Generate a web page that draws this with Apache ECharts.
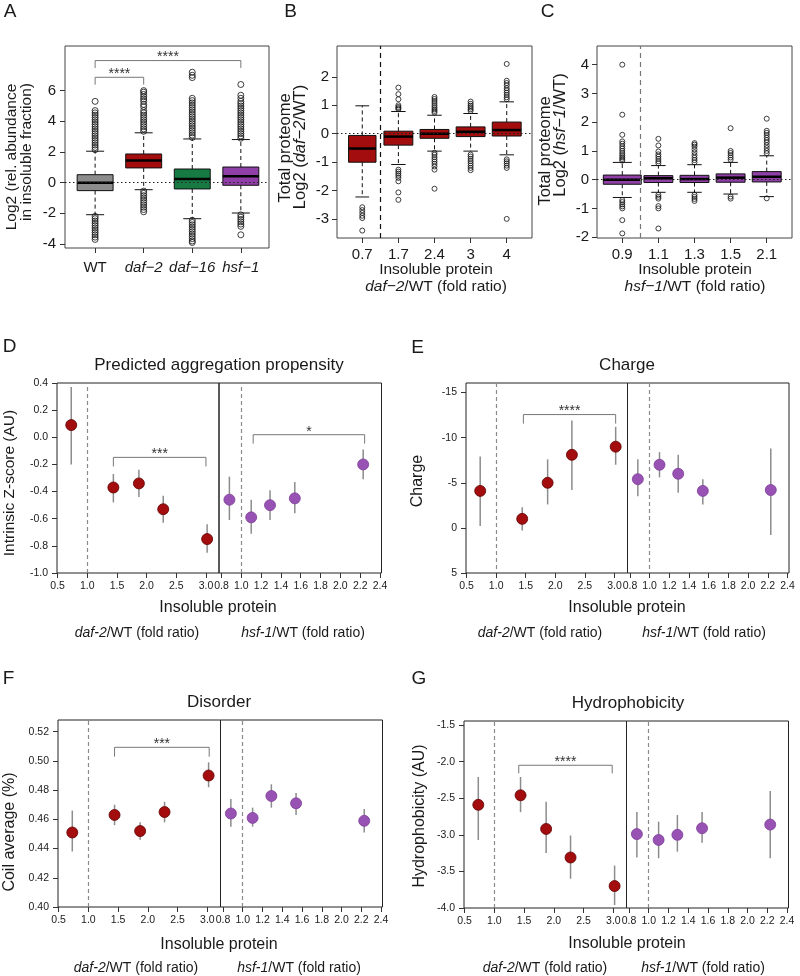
<!DOCTYPE html>
<html>
<head>
<meta charset="utf-8">
<title>Insoluble proteome</title>
<script src="https://cdn.jsdelivr.net/npm/echarts@6/dist/echarts.min.js"></script>
<style>
  html, body { margin: 0; padding: 0; background: #fff; }
  #chart { width: 800px; height: 976px; }
</style>
</head>
<body>
<div id="chart"></div>
<script>
const FONT = 'Liberation Sans';

// ---------- A: log2 abundance in insoluble fraction ----------
const aStrains = ['WT', 'daf−2', 'daf−16', 'hsf−1'];
// [lower whisker, Q1, median, Q3, upper whisker]
const aBoxes = [
  [-2.09, -0.52, 0.0, 0.52, 2.05],
  [-0.46, 0.96, 1.44, 1.87, 3.25],
  [-2.35, -0.41, 0.24, 0.89, 2.85],
  [-1.98, -0.17, 0.41, 1.02, 2.81]
];
const aOutliers = [
  [2.15, 2.3, 2.45, 2.6, 2.75, 2.9, 3.05, 3.2, 3.35, 3.5, 3.65, 3.8, 3.95, 4.1, 4.25, 4.4, 4.55, 4.7, 5.3,
   -2.2, -2.35, -2.5, -2.65, -2.8, -2.95, -3.1, -3.25, -3.4, -3.55, -3.7],
  [3.35, 3.5, 3.65, 3.8, 3.95, 4.1, 4.25, 4.4, 4.55, 4.7, 4.95, 5.1, 5.3, 5.45, 5.6, 5.75, 5.9, 6.0,
   -0.55, -0.7, -0.85, -1.0, -1.15, -1.3, -1.45, -1.6, -1.75, -1.9],
  [2.95, 3.1, 3.25, 3.4, 3.55, 3.7, 3.85, 4.0, 4.15, 4.3, 4.45, 4.6, 4.75, 4.9, 5.05, 5.2, 5.35, 5.5, 6.85, 7.0, 7.2,
   -2.45, -2.6, -2.75, -2.9, -3.05, -3.2, -3.35, -3.5, -3.65, -3.8, -3.9],
  [2.9, 3.05, 3.2, 3.35, 3.5, 3.65, 3.8, 3.95, 4.1, 4.25, 4.4, 4.55, 4.7, 4.85, 5.0, 5.15, 5.3, 5.5, 5.7, 6.4,
   -2.1, -2.25, -2.4, -2.55, -2.7, -2.85, -3.4]
];
const aSig = [[1, 2, 6.87, 6.39, '****'], [1, 4, 7.96, 7.48, '****']];

// ---------- B: total proteome daf-2/WT by insoluble bin ----------
const bTicks = ['0.7', '1.7', '2.4', '3', '4'];
const bBoxes = [
  [-2.22, -1.0, -0.52, -0.06, 0.98],
  [-1.08, -0.4, -0.1, 0.09, 0.78],
  [-0.61, -0.16, 0.0, 0.15, 0.65],
  [-0.61, -0.1, 0.07, 0.24, 0.71],
  [-0.74, -0.08, 0.13, 0.41, 1.12]
];
const bOutliers = [
  [-2.58, -2.68, -2.78, -2.88, -2.96, -3.4],
  [0.86, 0.9, 0.94, 1.0, 1.21, 1.39, 1.62, -1.26, -1.33, -1.4, -1.47, -1.55, -1.67, -2.06, -2.32],
  [0.74, 0.8, 0.86, 0.93, 1.0, 1.08, 1.15, 1.22, 1.29, -0.67, -0.74, -0.82, -0.9, -0.98, -1.06, -1.15, -1.26, -1.93],
  [0.8, 0.86, 0.92, 0.98, 1.05, 1.13, -0.73, -0.8, -0.88, -0.96, -1.04, -1.12, -1.2, -1.28],
  [1.21, 1.28, 1.36, 1.44, 1.52, 1.6, 1.7, 1.78, 1.86, 2.45, -0.9, -0.97, -1.04, -1.12, -1.2, -2.99]
];

// ---------- C: total proteome hsf-1/WT by insoluble bin ----------
const cTicks = ['0.9', '1.1', '1.3', '1.5', '2.1'];
const cBoxes = [
  [-0.62, -0.16, 0.0, 0.16, 0.6],
  [-0.44, -0.1, 0.05, 0.14, 0.49],
  [-0.44, -0.1, 0.02, 0.15, 0.52],
  [-0.5, -0.09, 0.07, 0.2, 0.6],
  [-0.59, -0.08, 0.1, 0.28, 0.83]
];
const cOutliers = [
  [0.66, 0.72, 0.78, 0.85, 0.92, 1.0, 1.08, 1.16, 1.25, 1.33, 1.56, 2.26, 4.0, -0.71, -0.78, -0.86, -0.93, -1.0, -1.41, -1.87],
  [0.57, 0.64, 0.72, 0.8, 0.88, 0.98, 1.19, 1.42, -0.53, -0.6, -0.66, -0.92, -1.0, -1.7],
  [0.6, 0.68, 0.76, 0.85, 0.95, 1.05, 1.15, 1.22, 1.27, -0.53, -0.6, -0.67, -0.74],
  [0.69, 0.77, 0.85, 0.93, 1.0, 1.79, -0.59, -0.66],
  [0.92, 1.0, 1.1, 1.2, 1.3, 1.38, 1.46, 1.55, 1.63, 1.7, 2.12, -0.65]
];

// ---------- D-G: protein properties by insoluble bin ----------
const daf2X = [0.73, 1.44, 1.87, 2.28, 3.02];
const hsf1X = [0.88, 1.10, 1.29, 1.54, 2.23];
// [mean, lower, upper]
const aggDaf2 = [[0.09, -0.20, 0.37], [-0.37, -0.48, -0.27], [-0.34, -0.44, -0.24], [-0.53, -0.63, -0.43], [-0.75, -0.85, -0.64]];
const aggHsf1 = [[-0.46, -0.61, -0.29], [-0.59, -0.71, -0.46], [-0.50, -0.61, -0.39], [-0.45, -0.56, -0.33], [-0.20, -0.31, -0.09]];
const chgDaf2 = [[-4.1, -7.9, -0.2], [-1.0, -2.3, 0.3], [-5.0, -7.6, -2.6], [-8.1, -11.9, -4.2], [-9.0, -11.2, -7.0]];
const chgHsf1 = [[-5.4, -7.6, -3.5], [-7.0, -8.4, -5.6], [-6.0, -8.1, -3.9], [-4.1, -5.4, -2.6], [-4.2, -8.8, 0.8]];
const disDaf2 = [[0.451, 0.438, 0.466], [0.463, 0.456, 0.470], [0.452, 0.446, 0.458], [0.465, 0.458, 0.472], [0.490, 0.482, 0.499]];
const disHsf1 = [[0.464, 0.455, 0.474], [0.461, 0.455, 0.468], [0.476, 0.468, 0.484], [0.471, 0.463, 0.478], [0.459, 0.451, 0.467]];
const hydDaf2 = [[-2.59, -3.07, -2.21], [-2.46, -2.69, -2.21], [-2.92, -3.25, -2.55], [-3.31, -3.60, -3.01], [-3.70, -3.96, -3.42]];
const hydHsf1 = [[-2.99, -3.31, -2.69], [-3.07, -3.32, -2.82], [-3.00, -3.23, -2.73], [-2.91, -3.11, -2.69], [-2.86, -3.32, -2.40]];
// [x from, x to, bracket level, tick end, label]
const aggSigDaf2 = [[1.44, 3.0, -0.148, -0.215, '***']];
const aggSigHsf1 = [[1.12, 2.245, 0.019, -0.047, '*']];
const chgSig = [[1.46, 3.02, -12.56, -11.56, '****']];
const disSig = [[1.44, 3.03, 0.5093, 0.5029, '***']];
const hydSig = [[1.41, 2.98, -2.05, -2.16, '****']];

const leftTicks = [0.5, 1.0, 1.5, 2.0, 2.5, 3.0];
const rightTicks = [0.8, 1.0, 1.2, 1.4, 1.6, 1.8, 2.0, 2.2, 2.4];

const RED = '#a30d0d', PURPLE = '#9752b3';
const aColors = ['#8c8c8c', RED, '#177a43', '#8f3fa6'];

const chart = echarts.init(document.getElementById('chart'));

const grids = [
  { left: 65, top: 46, width: 204, height: 202 },
  { left: 337, top: 46, width: 195, height: 192 },
  { left: 597, top: 46, width: 195, height: 192 },
  { left: 57, top: 383, width: 162, height: 190 },
  { left: 219, top: 383, width: 162.5, height: 190 },
  { left: 466, top: 383, width: 161.5, height: 190 },
  { left: 627.5, top: 383, width: 161.5, height: 190 },
  { left: 58, top: 720, width: 162.5, height: 187 },
  { left: 220.5, top: 720, width: 162, height: 187 },
  { left: 464, top: 721, width: 162.5, height: 187 },
  { left: 626.5, top: 721, width: 162, height: 187 }
].map((g, i) => Object.assign(g, {
  show: true, borderColor: i < 3 ? '#444' : '#222', borderWidth: 1, backgroundColor: 'transparent'
}));

function rich(size) {
  return { i: { fontStyle: 'italic', fontSize: size, fontFamily: FONT, color: '#1a1a1a', fill: '#1a1a1a' } };
}

function axis(gi, min, max, ticks, fmt, size, margin, extra) {
  return Object.assign({
    type: 'value', gridIndex: gi, min, max,
    axisLine: { show: false, onZero: false },
    axisTick: { show: true, length: 5, customValues: ticks, lineStyle: { color: '#333', width: 1 } },
    axisLabel: { customValues: ticks, formatter: fmt, color: '#1a1a1a', fontSize: size, fontFamily: FONT, margin, rich: rich(size) },
    splitLine: { show: false }
  }, extra || {});
}

function boxSeries(ai, boxes, colors, widths) {
  return {
    type: 'custom', xAxisIndex: ai, yAxisIndex: ai, z: 2, silent: true,
    data: boxes.map((b, i) => [i + 1].concat(b)),
    renderItem(params, api) {
      const i = params.dataIndex, x = api.value(0), w = widths[i];
      const v = k => api.value(k);
      const seg = (x1, y1, x2, y2, style) => {
        const a = api.coord([x1, y1]), b = api.coord([x2, y2]);
        return { type: 'line', shape: { x1: a[0], y1: a[1], x2: b[0], y2: b[1] }, style };
      };
      const thin = { stroke: '#111', lineWidth: 1 };
      const dash = { stroke: '#111', lineWidth: 1, lineDash: [4, 3] };
      const tl = api.coord([x - w / 2, v(4)]), br = api.coord([x + w / 2, v(2)]);
      return { type: 'group', children: [
        seg(x, v(4), x, v(5), dash),
        seg(x, v(2), x, v(1), dash),
        seg(x - w / 4, v(5), x + w / 4, v(5), thin),
        seg(x - w / 4, v(1), x + w / 4, v(1), thin),
        { type: 'rect', shape: { x: tl[0], y: tl[1], width: br[0] - tl[0], height: br[1] - tl[1] },
          style: { fill: colors[i], stroke: '#111', lineWidth: 1 } },
        seg(x - w / 2, v(3), x + w / 2, v(3), { stroke: '#000', lineWidth: 2.5 })
      ] };
    }
  };
}

function outlierSeries(ai, outs, size, marks) {
  const data = [];
  outs.forEach((list, i) => list.forEach(v => data.push([i + 1, v])));
  return {
    type: 'scatter', xAxisIndex: ai, yAxisIndex: ai, z: 3, silent: true, symbolSize: size, data,
    itemStyle: { color: 'transparent', borderColor: '#111', borderWidth: 1 },
    markLine: { silent: true, symbol: 'none', label: { show: false }, animation: false, data: marks }
  };
}

function sigSeries(ai, list) {
  return {
    type: 'custom', xAxisIndex: ai, yAxisIndex: ai, z: 5, silent: true,
    data: list.map(b => b.slice(0, 4)),
    renderItem(params, api) {
      const b = list[params.dataIndex];
      const p1 = api.coord([b[0], b[3]]), p2 = api.coord([b[0], b[2]]);
      const p3 = api.coord([b[1], b[2]]), p4 = api.coord([b[1], b[3]]);
      return { type: 'group', children: [
        { type: 'polyline', shape: { points: [p1, p2, p3, p4] }, style: { stroke: '#777', lineWidth: 1, fill: 'none' } },
        { type: 'text', style: { text: b[4], x: (p2[0] + p3[0]) / 2, y: p2[1] - 3, fill: '#333', fontSize: 14,
          fontFamily: FONT, align: 'center', verticalAlign: 'middle' } }
      ] };
    }
  };
}

function errSeries(ai, xs, vals) {
  return {
    type: 'custom', xAxisIndex: ai, yAxisIndex: ai, z: 2, silent: true,
    data: xs.map((x, i) => [x, vals[i][1], vals[i][2]]),
    renderItem(params, api) {
      const a = api.coord([api.value(0), api.value(1)]), b = api.coord([api.value(0), api.value(2)]);
      return { type: 'line', shape: { x1: a[0], y1: a[1], x2: b[0], y2: b[1] }, style: { stroke: '#8c8c8c', lineWidth: 1.5 } };
    }
  };
}

function pointSeries(ai, xs, vals, color, border) {
  return {
    type: 'scatter', xAxisIndex: ai, yAxisIndex: ai, z: 3, silent: true, symbolSize: 11,
    data: xs.map((x, i) => [x, vals[i][0]]),
    itemStyle: { color, borderColor: border, borderWidth: 0.8, opacity: 1 },
    markLine: { silent: true, symbol: 'none', label: { show: false }, animation: false,
      lineStyle: { type: [4, 3], color: '#8a8a8a', width: 1.2 }, data: [{ xAxis: 1.0 }] }
  };
}

const xAxes = [], yAxes = [], series = [];

// A
xAxes.push(axis(0, 0.38, 4.58, [1, 2, 3, 4],
  v => { const i = Math.round(v) - 1; return i === 0 ? aStrains[0] : '{i|' + aStrains[i] + '}'; }, 15, 12));
yAxes.push(axis(0, -4.26, 8.91, [-4, -2, 0, 2, 4, 6], v => String(v), 15, 9));
series.push(boxSeries(0, aBoxes, aColors, [0.74, 0.74, 0.74, 0.74]));
series.push(outlierSeries(0, aOutliers, 6, [{ yAxis: 0, lineStyle: { type: [1.5, 2.5], color: '#222', width: 1 } }]));
series.push(sigSeries(0, aSig));

// B
xAxes.push(axis(1, 0.3, 5.7, [1, 2, 3, 4, 5], v => bTicks[Math.round(v) - 1], 15, 9));
yAxes.push(axis(1, -3.66, 3.08, [-3, -2, -1, 0, 1, 2], v => String(v), 15, 8));
series.push(boxSeries(1, bBoxes, bBoxes.map(() => RED), [0.76, 0.8, 0.8, 0.8, 0.8]));
series.push(outlierSeries(1, bOutliers, 5, [
  { yAxis: 0, lineStyle: { type: [1.5, 2.5], color: '#222', width: 1 } },
  { xAxis: 1.5, lineStyle: { type: [5, 4], color: '#111', width: 1.2 } }
]));

// C
xAxes.push(axis(2, 0.3, 5.7, [1, 2, 3, 4, 5], v => cTicks[Math.round(v) - 1], 15, 9));
yAxes.push(axis(2, -2.03, 4.65, [-2, -1, 0, 1, 2, 3, 4], v => String(v), 15, 8));
series.push(boxSeries(2, cBoxes, cBoxes.map(() => '#8f3fa6'), [1.05, 0.8, 0.8, 0.8, 0.8]));
series.push(outlierSeries(2, cOutliers, 5, [
  { yAxis: 0, lineStyle: { type: [1.5, 2.5], color: '#222', width: 1 } },
  { xAxis: 1.5, lineStyle: { type: [5, 4], color: '#777', width: 1.2 } }
]));

// D-G, each a left (daf-2) and right (hsf-1) half
function pairPanel(li, yMin, yMax, yTicks, yFmt, inverse, daf, hsf, sigL, sigR) {
  const ri = li + 1;
  xAxes.push(axis(li, 0.49, 3.22, leftTicks, v => v.toFixed(1), 10.5, 8));
  xAxes.push(axis(ri, 0.775, 2.415, rightTicks, v => v.toFixed(1), 10.5, 8));
  yAxes.push(axis(li, yMin, yMax, yTicks, yFmt, 10.5, 9, { inverse }));
  yAxes.push({ type: 'value', gridIndex: ri, min: yMin, max: yMax, inverse, show: false, splitLine: { show: false } });
  series.push(errSeries(li, daf2X, daf), pointSeries(li, daf2X, daf, RED, '#5e0000'));
  series.push(errSeries(ri, hsf1X, hsf), pointSeries(ri, hsf1X, hsf, PURPLE, '#7d3d99'));
  if (sigL) series.push(sigSeries(li, sigL));
  if (sigR) series.push(sigSeries(ri, sigR));
}
pairPanel(3, -1.0, 0.4, [-1.0, -0.8, -0.6, -0.4, -0.2, 0.0, 0.2, 0.4], v => v.toFixed(1), false,
  aggDaf2, aggHsf1, aggSigDaf2, aggSigHsf1);
pairPanel(5, -16.06, 5, [-15, -10, -5, 0, 5], v => String(v), true, chgDaf2, chgHsf1, chgSig, null);
pairPanel(7, 0.40, 0.528, [0.40, 0.42, 0.44, 0.46, 0.48, 0.50, 0.52], v => v.toFixed(2), false,
  disDaf2, disHsf1, disSig, null);
pairPanel(9, -4.0, -1.445, [-4.0, -3.5, -3.0, -2.5, -2.0, -1.5], v => v.toFixed(1), false,
  hydDaf2, hydHsf1, hydSig, null);

function txt(x, y, text, size, rot) {
  return {
    type: 'text', x, y, rotation: rot ? Math.PI / 2 : 0, silent: true,
    style: { text, fontSize: size, fontFamily: FONT, fill: '#1a1a1a', align: 'center', verticalAlign: 'middle',
      textAlign: 'center', textVerticalAlign: 'middle', rich: rich(size) }
  };
}

const texts = [
  txt(10, 11.5, 'A', 19), txt(290.5, 11.5, 'B', 19), txt(547.5, 11.5, 'C', 19),
  txt(9.5, 346.5, 'D', 19), txt(417.5, 347.5, 'E', 19), txt(8.5, 678.5, 'F', 19), txt(419, 678.5, 'G', 19),
  // A
  txt(12, 157, 'Log2 (rel. abundance', 15.5, true),
  txt(27, 152, 'in insoluble fraction)', 15.5, true),
  // B
  txt(285, 148, 'Total proteome', 16.5, true),
  txt(300, 147, 'Log2 ({i|daf−2}/WT)', 16.5, true),
  txt(436, 270, 'Insoluble protein', 15.5),
  txt(436, 287, '{i|daf−2}/WT (fold ratio)', 15.5),
  // C
  txt(545, 151, 'Total proteome', 16.5, true),
  txt(560, 135, 'Log2 ({i|hsf−1}/WT)', 16.5, true),
  txt(695, 270, 'Insoluble protein', 15.5),
  txt(695, 287, '{i|hsf−1}/WT (fold ratio)', 15.5),
  // D
  txt(219, 365, 'Predicted aggregation propensity', 17),
  txt(10, 483, 'Intrinsic Z-score (AU)', 15.5, true),
  txt(218, 608, 'Insoluble protein', 16),
  txt(137, 633, '{i|daf-2}/WT (fold ratio)', 14),
  txt(303, 633, '{i|hsf-1}/WT (fold ratio)', 14),
  // E
  txt(627, 365, 'Charge', 17),
  txt(418, 481, 'Charge', 16, true),
  txt(627, 608, 'Insoluble protein', 16),
  txt(540, 633, '{i|daf-2}/WT (fold ratio)', 14),
  txt(704, 633, '{i|hsf-1}/WT (fold ratio)', 14),
  // F
  txt(219, 702, 'Disorder', 17),
  txt(10, 832, 'Coil average (%)', 16, true),
  txt(219, 945, 'Insoluble protein', 16),
  txt(136, 968, '{i|daf-2}/WT (fold ratio)', 14),
  txt(299, 968, '{i|hsf-1}/WT (fold ratio)', 14),
  // G
  txt(628, 703, 'Hydrophobicity', 17),
  txt(420, 816, 'Hydrophobicity (AU)', 16, true),
  txt(627, 944, 'Insoluble protein', 16),
  txt(545, 968, '{i|daf-2}/WT (fold ratio)', 14),
  txt(703, 968, '{i|hsf-1}/WT (fold ratio)', 14)
];

chart.setOption({
  animation: false,
  backgroundColor: '#fff',
  textStyle: { fontFamily: FONT },
  grid: grids,
  xAxis: xAxes,
  yAxis: yAxes,
  series,
  graphic: { elements: texts }
});
</script>
</body>
</html>
